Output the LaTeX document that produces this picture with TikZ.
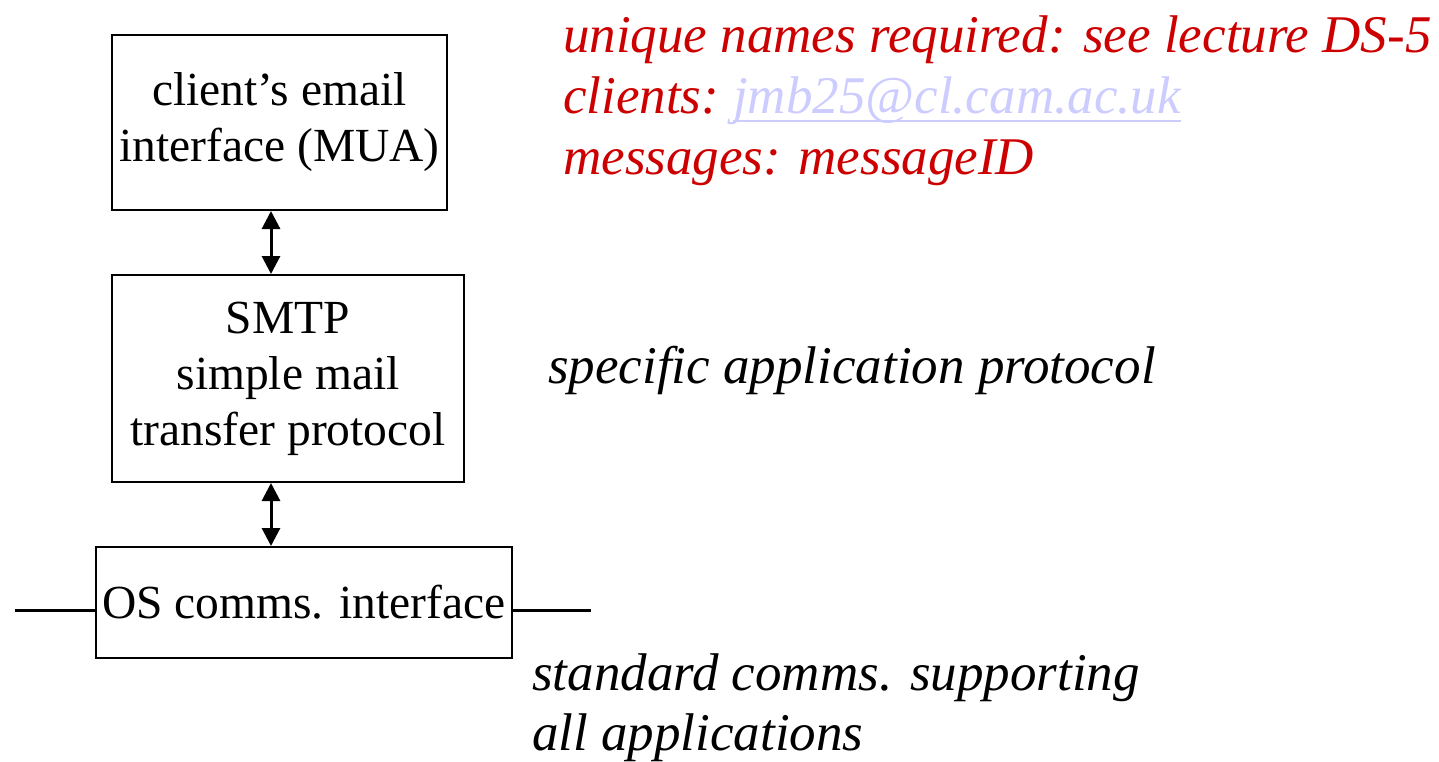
\documentclass[tikz,border=0pt]{standalone}
\usepackage{fontspec}
\setmainfont{Liberation Serif}
\usetikzlibrary{arrows.meta,calc}
\definecolor{redtxt}{RGB}{204,0,0}
\definecolor{linktxt}{RGB}{204,204,255}
\tikzset{
  box/.style={draw=black,line width=2pt,inner sep=0pt,align=center,font=\fontsize{47.5}{56}\selectfont},
  txt/.style={inner sep=0pt,anchor=base west,font=\fontsize{53}{60}\selectfont\itshape},
  dbl/.style={line width=3pt,{Triangle[width=18pt,length=18pt]}-{Triangle[width=18pt,length=18pt]}},
  wire/.style={line width=3pt}
}
\begin{document}
\begin{tikzpicture}[x=1pt,y=1pt]
\useasboundingbox (0,0) rectangle (1439,-761);
\node[box,minimum width=335pt,minimum height=175pt] (mua) at (279.5,-122.5) {client’s email\\interface (MUA)};
\node[box,minimum width=352pt,minimum height=207pt] (smtp) at (288,-378.5) {SMTP\\simple mail\\transfer protocol};
\node[box,minimum width=416pt,minimum height=111pt] (os) at (304,-602.5) {OS comms. interface};
\coordinate (ax) at (271,0);
\draw[dbl] (mua.south -| ax) -- (smtp.north -| ax);
\draw[dbl] (smtp.south -| ax) -- (os.north -| ax);
\coordinate (lw) at (15,-610);
\coordinate (re) at (591,-610);
\draw[wire] (lw) -- (lw -| os.west);
\draw[wire] (os.east |- re) -- (re);
\node[txt,text=redtxt] (t1) at (563,-52) {unique names required: see lecture DS-5};
\node[txt,text=redtxt] (t2) at (563,-113) {clients:};
\node[txt,text=linktxt] (link) at (733,-113) {jmb25@cl.cam.ac.uk};
\draw[linktxt,line width=2pt] ([yshift=-8pt]link.base west) -- ([yshift=-8pt]link.base east);
\node[txt,text=redtxt] (t3) at (563,-174) {messages: messageID};
\node[txt] (t4) at (548,-383) {specific application protocol};
\node[txt] (t5) at (532,-690) {standard comms. supporting};
\node[txt] (t6) at (532,-750) {all applications};
\end{tikzpicture}
\end{document}
